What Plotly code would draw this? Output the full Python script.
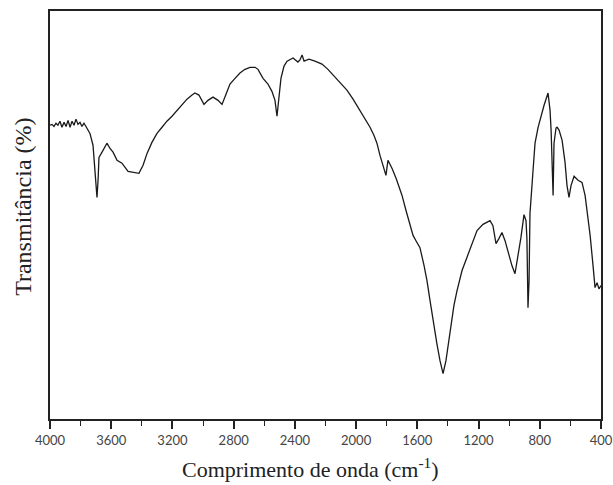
import plotly.graph_objects as go

# Wavenumber (cm^-1) and transmittance (%)
wavenumber = [4000, 3987, 3974, 3961, 3948, 3935, 3922, 3908, 3895, 3882, 3869, 3856, 3843, 3830, 3817,
              3804, 3791, 3778, 3765, 3752, 3739, 3719, 3706, 3693, 3686, 3680, 3660, 3641, 3628, 3608,
              3588, 3562, 3530, 3490, 3458, 3432, 3419, 3392, 3366, 3334, 3301, 3268, 3236, 3203, 3170,
              3138, 3105, 3072, 3053, 3027, 2994, 2968, 2935, 2902, 2876, 2850, 2824, 2791, 2759, 2726,
              2693, 2660, 2641, 2608, 2576, 2550, 2530, 2517, 2504, 2491, 2471, 2451, 2412, 2380, 2367,
              2353, 2340, 2308, 2269, 2223, 2184, 2151, 2105, 2060, 2020, 1975, 1935, 1909, 1883, 1864,
              1844, 1824, 1805, 1792, 1765, 1739, 1726, 1700, 1674, 1648, 1628, 1609, 1583, 1556, 1537,
              1517, 1498, 1472, 1452, 1432, 1413, 1387, 1361, 1341, 1308, 1276, 1243, 1210, 1171, 1125,
              1106, 1086, 1067, 1047, 1027, 1001, 982, 962, 942, 923, 903, 890, 884, 877, 870,
              864, 844, 831, 811, 792, 772, 746, 733, 726, 720, 713, 707, 694, 687, 674,
              654, 635, 622, 609, 596, 576, 550, 524, 504, 491, 471, 452, 439, 426, 413, 400]

transmittance = [72.0, 72.2, 71.7, 72.5, 72.0, 73.0, 71.5, 72.7, 71.7, 73.2, 71.5, 73.0, 72.0, 73.5, 72.2,
                 72.7, 71.7, 72.5, 71.7, 71.0, 70.0, 67.1, 60.9, 54.3, 58.5, 64.1, 65.4, 66.6, 67.6, 66.3,
                 65.4, 63.4, 62.7, 60.7, 60.4, 60.2, 60.2, 62.2, 65.1, 67.8, 70.0, 71.5, 73.0, 74.2, 75.7,
                 77.1, 78.4, 79.4, 79.9, 79.4, 77.1, 78.1, 78.9, 78.1, 77.1, 79.6, 82.1, 83.5, 84.8, 85.7,
                 86.2, 86.2, 85.7, 83.5, 82.1, 80.3, 78.1, 74.2, 79.4, 83.5, 86.5, 87.7, 88.5, 87.5, 88.0,
                 89.2, 87.7, 88.2, 87.7, 87.0, 85.7, 84.3, 82.6, 80.6, 78.4, 75.7, 73.2, 71.5, 69.5, 67.6,
                 64.6, 61.9, 59.7, 63.4, 61.4, 59.0, 57.7, 54.8, 51.1, 47.9, 45.0, 43.7, 42.0, 37.6, 33.9,
                 29.0, 24.1, 18.4, 14.3, 11.1, 14.3, 20.9, 27.8, 31.4, 36.4, 39.6, 43.0, 46.2, 47.7, 48.6,
                 47.4, 43.0, 44.2, 45.7, 43.7, 40.0, 37.6, 35.6, 40.0, 44.5, 50.1, 48.6, 44.2, 27.3, 33.9,
                 50.4, 60.9, 67.6, 71.5, 74.2, 76.9, 79.9, 75.7, 70.8, 63.4, 54.8, 67.6, 71.3, 71.5, 70.8,
                 68.3, 62.9, 57.2, 54.3, 57.2, 59.5, 58.5, 58.0, 54.8, 51.1, 45.0, 37.6, 32.2, 33.4, 31.9, 32.7]

x_ticks = [4000, 3600, 3200, 2800, 2400, 2000, 1600, 1200, 800, 400]
x_title = "Comprimento de onda (cm<sup>-1</sup>)"
y_title = "Transmitância (%)"

fig = go.Figure()
fig.add_trace(go.Scatter(x=wavenumber, y=transmittance, mode="lines",
                         line=dict(color="#1a1a1a", width=1.3), showlegend=False))

serif = "Liberation Serif, Times New Roman, serif"
sans = "Lato, Open Sans, sans-serif"
fig.update_layout(
    width=613, height=485,
    margin=dict(l=50, r=12, t=11, b=66),
    paper_bgcolor="white", plot_bgcolor="white",
    font=dict(family=serif, color="#222"),
)
fig.update_xaxes(
    range=[4000, 400], tickvals=x_ticks, ticks="outside", ticklen=8, tickwidth=1.6,
    tickcolor="#222", showline=True, linecolor="#222", linewidth=1.8, mirror=True,
    showgrid=False, zeroline=False, automargin=False,
    tickfont=dict(size=13, family=sans, color="#444"),
    minor=dict(dtick=200, ticks="outside", ticklen=5, tickwidth=1.4, tickcolor="#222", showgrid=False),
)
fig.update_yaxes(
    range=[0, 100], showticklabels=False, ticks="", showline=True, linecolor="#222",
    linewidth=1.8, mirror=True, showgrid=False, zeroline=False, automargin=False,
)
fig.add_annotation(text=x_title, xref="paper", yref="paper", x=0.472, y=-0.12,
                   xanchor="center", yanchor="middle", showarrow=False,
                   font=dict(size=22, family=serif, color="#222"))
fig.add_annotation(text=y_title, xref="paper", yref="paper", x=-0.049, y=0.52,
                   xanchor="center", yanchor="middle", showarrow=False, textangle=-90,
                   font=dict(size=24, family=serif, color="#222"))
fig.write_html("out.html", config={"displayModeBar": False},
               post_script=["document.body.style.margin='0px';"])
